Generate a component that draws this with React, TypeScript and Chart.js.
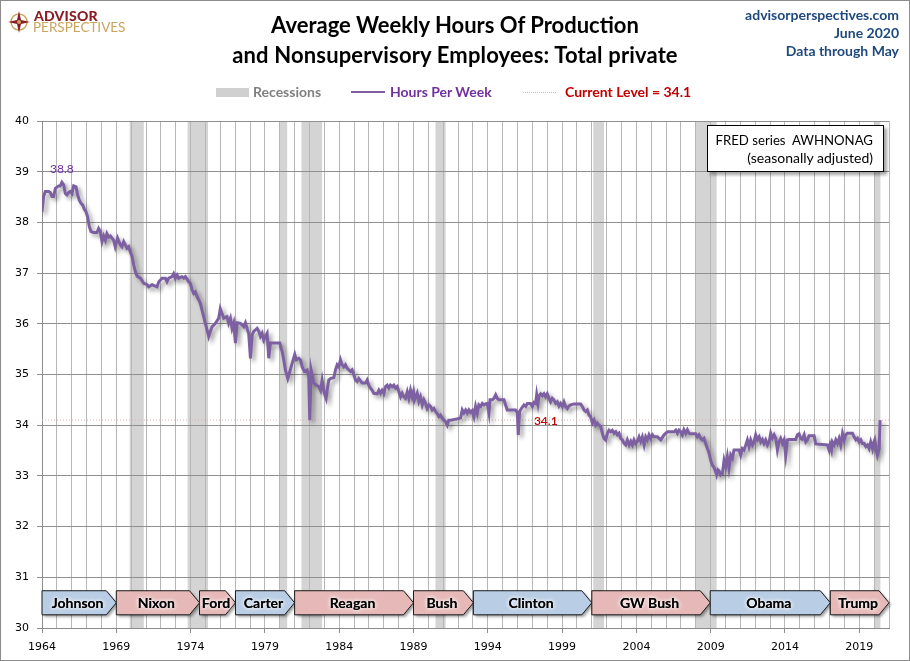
import React, { useEffect, useRef } from 'react';
import { Chart, registerables } from 'chart.js';

Chart.register(...registerables);

const hours1964to1979: [number, number][] = [
  [1964.00, 38.21], [1964.11, 38.51], [1964.22, 38.61], [1964.45, 38.61], [1964.56, 38.59], [1964.67, 38.51],
  [1964.78, 38.51], [1964.90, 38.67], [1965.12, 38.72], [1965.23, 38.72], [1965.34, 38.79], [1965.46, 38.74],
  [1965.57, 38.57], [1965.68, 38.54], [1965.79, 38.59], [1965.90, 38.61], [1966.02, 38.57], [1966.13, 38.72],
  [1966.29, 38.70], [1966.40, 38.54], [1966.51, 38.44], [1966.62, 38.38], [1966.74, 38.34], [1966.85, 38.26],
  [1966.96, 38.21], [1967.07, 38.11], [1967.18, 37.92], [1967.30, 37.82], [1967.48, 37.80], [1967.70, 37.80],
  [1967.81, 37.88], [1967.92, 37.82], [1968.04, 37.62], [1968.15, 37.73], [1968.26, 37.65], [1968.37, 37.78],
  [1968.49, 37.71], [1968.60, 37.73], [1968.82, 37.65], [1968.93, 37.52], [1969.09, 37.69], [1969.27, 37.56],
  [1969.38, 37.52], [1969.50, 37.62], [1969.72, 37.49], [1969.83, 37.52], [1969.94, 37.42], [1970.06, 37.33],
  [1970.17, 37.16], [1970.28, 37.03], [1970.40, 36.94], [1970.62, 36.90], [1970.85, 36.80], [1971.07, 36.77],
  [1971.18, 36.73], [1971.41, 36.77], [1971.74, 36.73], [1971.86, 36.83], [1972.08, 36.90], [1972.30, 36.90],
  [1972.41, 36.83], [1972.53, 36.90], [1972.75, 36.93], [1972.86, 36.99], [1972.97, 36.90], [1973.09, 36.96],
  [1973.20, 36.90], [1973.42, 36.93], [1973.54, 36.90], [1973.65, 36.93], [1973.76, 36.88], [1973.87, 36.83],
  [1973.98, 36.80], [1974.10, 36.67], [1974.21, 36.60], [1974.32, 36.63], [1974.43, 36.54], [1974.55, 36.47],
  [1974.66, 36.40], [1974.77, 36.27], [1974.88, 36.14], [1974.99, 36.01], [1975.11, 35.88], [1975.22, 35.75],
  [1975.33, 35.85], [1975.44, 35.94], [1975.67, 36.01], [1975.89, 36.11], [1976.00, 36.30], [1976.11, 36.21],
  [1976.23, 36.11], [1976.45, 36.14], [1976.56, 36.01], [1976.68, 36.11], [1976.79, 35.91], [1976.90, 36.01],
  [1977.02, 35.62], [1977.13, 36.02], [1977.35, 36.01], [1977.58, 35.94], [1977.69, 36.02], [1977.80, 35.91],
  [1977.91, 35.81], [1978.03, 35.32], [1978.14, 35.78], [1978.25, 35.85], [1978.48, 35.91], [1978.59, 35.85],
  [1978.70, 35.75], [1978.81, 35.81], [1978.92, 35.68], [1979.04, 35.75], [1979.15, 35.81], [1979.26, 35.32],
  [1979.37, 35.62], [1979.60, 35.62],
];

const hours1980to1999: [number, number][] = [
  [1980.00, 35.62], [1980.16, 35.45], [1980.27, 35.29], [1980.38, 35.09], [1980.54, 34.92], [1980.68, 35.06],
  [1980.83, 35.22], [1981.01, 35.40], [1981.12, 35.29], [1981.28, 35.32], [1981.39, 35.29], [1981.51, 35.15],
  [1981.66, 35.06], [1981.84, 35.09], [1981.95, 34.96], [1982.02, 34.10], [1982.11, 35.09], [1982.29, 34.83],
  [1982.47, 34.79], [1982.63, 34.76], [1982.74, 34.69], [1982.85, 34.89], [1982.97, 34.66], [1983.12, 34.53],
  [1983.19, 34.69], [1983.30, 34.89], [1983.41, 34.92], [1983.64, 34.94], [1983.75, 35.09], [1983.86, 35.19],
  [1983.97, 35.15], [1984.09, 35.29], [1984.20, 35.19], [1984.31, 35.15], [1984.42, 35.19], [1984.54, 35.12],
  [1984.76, 35.06], [1984.87, 35.09], [1984.99, 34.99], [1985.10, 34.89], [1985.21, 34.86], [1985.32, 34.92],
  [1985.55, 34.83], [1985.77, 34.83], [1985.88, 34.89], [1985.99, 34.79], [1986.11, 34.73], [1986.22, 34.69],
  [1986.33, 34.63], [1986.56, 34.62], [1986.67, 34.69], [1986.78, 34.63], [1986.89, 34.69], [1987.01, 34.63],
  [1987.12, 34.76], [1987.23, 34.79], [1987.34, 34.73], [1987.45, 34.79], [1987.57, 34.76], [1987.68, 34.79],
  [1987.79, 34.73], [1987.90, 34.76], [1988.02, 34.66], [1988.13, 34.56], [1988.24, 34.63], [1988.35, 34.56],
  [1988.46, 34.53], [1988.58, 34.66], [1988.69, 34.53], [1988.80, 34.69], [1988.91, 34.56], [1989.00, 34.66],
  [1989.07, 34.50], [1989.25, 34.63], [1989.36, 34.47], [1989.47, 34.56], [1989.59, 34.40], [1989.70, 34.50],
  [1989.81, 34.43], [1989.92, 34.33], [1990.04, 34.40], [1990.15, 34.37], [1990.26, 34.30], [1990.37, 34.33],
  [1990.48, 34.27], [1990.60, 34.23], [1990.71, 34.17], [1990.82, 34.20], [1990.93, 34.14], [1991.05, 34.10],
  [1991.16, 34.07], [1991.27, 34.00], [1991.38, 34.10], [1991.50, 34.10], [1992.17, 34.14], [1992.28, 34.30],
  [1992.39, 34.24], [1992.51, 34.30], [1992.62, 34.24], [1992.73, 34.30], [1992.84, 34.25], [1992.96, 34.29],
  [1993.07, 34.17], [1993.18, 34.37], [1993.29, 34.24], [1993.40, 34.40], [1993.52, 34.37], [1993.63, 34.43],
  [1993.74, 34.40], [1993.85, 34.42], [1993.97, 34.43], [1994.08, 34.24], [1994.15, 34.50], [1994.30, 34.50],
  [1994.41, 34.53], [1994.53, 34.60], [1994.64, 34.53], [1994.75, 34.50], [1995.09, 34.50], [1995.20, 34.40],
  [1995.31, 34.30], [1995.87, 34.30], [1995.99, 34.24], [1996.05, 33.81], [1996.14, 34.27], [1996.26, 34.33],
  [1996.43, 34.40], [1996.55, 34.37], [1996.66, 34.43], [1996.88, 34.43], [1997.00, 34.37], [1997.11, 34.45],
  [1997.22, 34.43], [1997.29, 34.60], [1997.38, 34.43], [1997.45, 34.58], [1997.56, 34.62], [1997.67, 34.58],
  [1997.78, 34.62], [1997.89, 34.56], [1998.00, 34.62], [1998.12, 34.53], [1998.23, 34.46], [1998.34, 34.53],
  [1998.45, 34.50], [1998.57, 34.43], [1998.68, 34.46], [1998.79, 34.38], [1998.90, 34.43], [1999.02, 34.37],
  [1999.13, 34.46], [1999.24, 34.37], [1999.35, 34.33], [1999.47, 34.38], [1999.58, 34.40], [1999.80, 34.42],
];

const hours2000to2020: [number, number][] = [
  [2000.25, 34.42], [2000.36, 34.37], [2000.48, 34.30], [2000.59, 34.27], [2000.70, 34.30], [2000.81, 34.20],
  [2000.92, 34.17], [2001.04, 34.04], [2001.15, 34.10], [2001.26, 34.00], [2001.37, 34.04], [2001.49, 34.00],
  [2001.60, 33.97], [2001.71, 33.84], [2001.82, 33.74], [2001.93, 33.71], [2002.05, 33.84], [2002.16, 33.90],
  [2002.27, 33.87], [2002.38, 33.90], [2002.50, 33.84], [2002.61, 33.87], [2002.72, 33.81], [2002.83, 33.84],
  [2002.94, 33.74], [2003.06, 33.71], [2003.17, 33.64], [2003.28, 33.61], [2003.39, 33.71], [2003.51, 33.61],
  [2003.62, 33.68], [2003.73, 33.61], [2003.84, 33.71], [2003.95, 33.64], [2004.07, 33.68], [2004.18, 33.77],
  [2004.29, 33.68], [2004.40, 33.77], [2004.52, 33.61], [2004.63, 33.77], [2004.74, 33.71], [2004.85, 33.81],
  [2004.96, 33.74], [2005.08, 33.81], [2005.19, 33.77], [2005.41, 33.77], [2005.64, 33.71], [2005.86, 33.81],
  [2006.09, 33.87], [2006.54, 33.87], [2006.65, 33.90], [2006.76, 33.84], [2006.87, 33.90], [2006.98, 33.87],
  [2007.09, 33.81], [2007.20, 33.91], [2007.32, 33.84], [2007.43, 33.91], [2007.54, 33.84], [2007.65, 33.83],
  [2007.99, 33.83], [2008.10, 33.77], [2008.21, 33.81], [2008.33, 33.74], [2008.44, 33.71], [2008.55, 33.74],
  [2008.66, 33.64], [2008.78, 33.54], [2008.89, 33.45], [2009.00, 33.31], [2009.11, 33.21], [2009.22, 33.17],
  [2009.34, 33.08], [2009.40, 33.02], [2009.49, 33.12], [2009.56, 33.10], [2009.67, 33.02], [2009.79, 33.05],
  [2009.90, 33.31], [2010.01, 33.18], [2010.12, 33.38], [2010.23, 33.15], [2010.35, 33.41], [2010.46, 33.35],
  [2010.57, 33.51], [2010.91, 33.51], [2011.02, 33.41], [2011.13, 33.54], [2011.24, 33.51], [2011.36, 33.61],
  [2011.47, 33.71], [2011.58, 33.58], [2011.69, 33.71], [2011.81, 33.61], [2011.92, 33.67], [2012.03, 33.81],
  [2012.14, 33.71], [2012.26, 33.77], [2012.37, 33.67], [2012.48, 33.72], [2012.59, 33.64], [2012.70, 33.71],
  [2012.82, 33.61], [2012.93, 33.67], [2013.04, 33.84], [2013.15, 33.74], [2013.27, 33.81], [2013.38, 33.74],
  [2013.49, 33.51], [2013.60, 33.67], [2013.71, 33.74], [2013.83, 33.64], [2013.94, 33.71], [2014.05, 33.41],
  [2014.16, 33.71], [2014.28, 33.72], [2014.72, 33.72], [2014.84, 33.81], [2014.95, 33.83], [2015.06, 33.74],
  [2015.17, 33.72], [2015.29, 33.81], [2015.40, 33.67], [2015.51, 33.71], [2015.62, 33.79], [2015.96, 33.79],
  [2016.07, 33.63], [2016.86, 33.61], [2016.97, 33.51], [2017.04, 33.61], [2017.13, 33.51], [2017.19, 33.67],
  [2017.31, 33.61], [2017.42, 33.71], [2017.53, 33.64], [2017.64, 33.74], [2017.75, 33.61], [2017.87, 33.84],
  [2017.98, 33.71], [2018.09, 33.81], [2018.20, 33.84], [2018.54, 33.84], [2018.65, 33.77], [2018.77, 33.71],
  [2018.88, 33.74], [2018.99, 33.67], [2019.10, 33.71], [2019.21, 33.64], [2019.33, 33.64], [2019.44, 33.58],
  [2019.55, 33.61], [2019.66, 33.54], [2019.77, 33.67], [2019.89, 33.54], [2019.95, 33.64], [2020.04, 33.71],
  [2020.13, 33.54], [2020.22, 33.41], [2020.34, 33.54], [2020.40, 34.10],
];

const recessionStarts = [1969.9, 1973.8, 1980.0, 1981.46, 1990.48, 2001.1, 2007.97, 2020.05];
const recessionEnds = [1970.85, 1975.17, 1980.5, 1982.85, 1991.16, 2001.82, 2009.4, 2020.42];

const presidents = ['Johnson', 'Nixon', 'Ford', 'Carter', 'Reagan', 'Bush', 'Clinton', 'GW Bush', 'Obama', 'Trump'];
const termStarts = [1964.0, 1969.0, 1974.6, 1977.02, 1981.0, 1989.0, 1993.03, 2001.0, 2008.97, 2017.05];
const termEnds = [1969.0, 1974.6, 1977.02, 1981.0, 1989.0, 1993.03, 2001.0, 2008.97, 2017.05, 2021.0];
const parties = ['D', 'R', 'R', 'D', 'R', 'R', 'D', 'R', 'D', 'R'];

const xMin = 1964;
const xMax = 2021;
const yMin = 30;
const yMax = 40;
const labelEvery = 5;

const allHours = [...hours1964to1979, ...hours1980to1999, ...hours2000to2020];
const currentLevel = allHours[allHours.length - 1][1];
const peakObs = allHours.reduce((a, b) => (b[1] > a[1] ? b : a));

const LINE_COLOR = '#7d60a2';

const backgroundPlugin = {
  id: 'recessionShading',
  beforeDraw(chart: any) {
    const { ctx, chartArea, scales } = chart;
    const x = scales.x;
    ctx.save();
    ctx.fillStyle = '#d4d4d4';
    recessionStarts.forEach((s, i) => {
      const x0 = x.getPixelForValue(s);
      const x1 = x.getPixelForValue(recessionEnds[i]);
      ctx.fillRect(x0, chartArea.top, x1 - x0, chartArea.bottom - chartArea.top);
    });
    ctx.restore();
  },
};

const shadowPlugin = {
  id: 'lineShadow',
  beforeDatasetDraw(chart: any, args: any) {
    if (args.index !== 0) return;
    const ctx = chart.ctx;
    ctx.save();
    ctx.shadowColor = 'rgba(0,0,0,0.38)';
    ctx.shadowBlur = 4;
    ctx.shadowOffsetX = 3;
    ctx.shadowOffsetY = 3;
  },
  afterDatasetDraw(chart: any, args: any) {
    if (args.index !== 0) return;
    chart.ctx.restore();
  },
};

const overlayPlugin = {
  id: 'overlays',
  afterDatasetsDraw(chart: any) {
    const { ctx, scales } = chart;
    const x = scales.x;
    const y = scales.y;
    // president boxes
    const top = y.getPixelForValue(30.735);
    const bot = y.getPixelForValue(30.26);
    const mid = (top + bot) / 2;
    const tip = 10;
    presidents.forEach((name, i) => {
      const x0 = x.getPixelForValue(termStarts[i]);
      const x1 = x.getPixelForValue(termEnds[i]);
      ctx.save();
      ctx.beginPath();
      ctx.moveTo(x0, top);
      ctx.lineTo(x1 - tip, top);
      ctx.lineTo(x1, mid);
      ctx.lineTo(x1 - tip, bot);
      ctx.lineTo(x0, bot);
      ctx.closePath();
      ctx.shadowColor = 'rgba(0,0,0,0.4)';
      ctx.shadowBlur = 3;
      ctx.shadowOffsetX = 2;
      ctx.shadowOffsetY = 2;
      ctx.fillStyle = parties[i] === 'D' ? '#b9cde5' : '#e6b9b8';
      ctx.fill();
      ctx.shadowColor = 'rgba(0,0,0,0)';
      ctx.strokeStyle = '#1a1a1a';
      ctx.lineWidth = 1;
      ctx.stroke();
      ctx.font = 'bold 14px Lato';
      ctx.textAlign = 'center';
      ctx.textBaseline = 'middle';
      ctx.shadowColor = 'rgba(255,255,255,1)';
      ctx.shadowBlur = 4;
      ctx.shadowOffsetX = 0;
      ctx.shadowOffsetY = 0;
      ctx.fillStyle = '#000';
      const cx = (x0 + x1) / 2 - 1.5;
      ctx.fillText(name, cx, mid + 1);
      ctx.fillText(name, cx, mid + 1);
      ctx.restore();
    });
    // value labels
    ctx.save();
    ctx.textAlign = 'center';
    ctx.textBaseline = 'middle';
    ctx.font = '12px Lato';
    ctx.fillStyle = '#7030a0';
    ctx.fillText(peakObs[1].toFixed(1), x.getPixelForValue(peakObs[0]), y.getPixelForValue(peakObs[1]) - 13);
    ctx.fillStyle = '#c00000';
    ctx.font = '600 12px Lato';
    ctx.fillText(currentLevel.toFixed(1), x.getPixelForValue(1997.9), y.getPixelForValue(currentLevel) + 1);
    ctx.restore();
  },
};

export default function App() {
  const canvasRef = useRef<HTMLCanvasElement | null>(null);

  useEffect(() => {
    const canvas = canvasRef.current;
    if (!canvas) return;
    const chart = new Chart(canvas, {
      type: 'line',
      data: {
        datasets: [
          {
            label: 'Hours Per Week',
            data: allHours.map(([d, h]) => ({ x: d, y: h })),
            borderColor: LINE_COLOR,
            borderWidth: 3,
            pointRadius: 0,
            tension: 0,
            fill: false,
          },
          {
            label: 'Current Level',
            data: [
              { x: xMin, y: currentLevel },
              { x: xMax, y: currentLevel },
            ],
            borderColor: '#e6aeb0',
            borderWidth: 1,
            borderDash: [1, 2],
            pointRadius: 0,
            fill: false,
          },
        ],
      },
      options: {
        animation: false,
        responsive: false,
        events: [],
        layout: { padding: { left: 0, top: 121, right: 21, bottom: 0 } },
        plugins: { legend: { display: false }, tooltip: { enabled: false }, title: { display: false } },
        scales: {
          x: {
            type: 'linear',
            min: xMin,
            max: xMax,
            afterFit: (s: any) => {
              s.height = 33;
            },
            ticks: {
              stepSize: 1,
              autoSkip: false,
              maxRotation: 0,
              padding: 8,
              color: '#000',
              font: { family: 'DejaVu Sans', size: 11 },
              callback: (v: any) => ((Number(v) - xMin) % labelEvery === 0 ? String(v) : ''),
            },
            grid: {
              color: '#b7b7b7',
              lineWidth: 1,
              tickLength: 5,
              tickColor: (c: any) =>
                c.tick && (c.tick.value - xMin) % labelEvery === 0 ? '#8c8c8c' : 'rgba(0,0,0,0)',
            },
            border: { color: '#8c8c8c' },
          },
          y: {
            min: yMin,
            max: yMax,
            afterFit: (s: any) => {
              s.width = 42;
            },
            ticks: {
              stepSize: 1,
              padding: 8,
              color: '#000',
              font: { family: 'DejaVu Sans', size: 11 },
            },
            grid: { color: '#8f8f8f', lineWidth: 1, tickLength: 5, tickColor: '#8c8c8c' },
            border: { color: '#8c8c8c' },
          },
        },
      },
      plugins: [backgroundPlugin, shadowPlugin, overlayPlugin],
    });
    return () => chart.destroy();
  }, []);

  const legendText: React.CSSProperties = {
    position: 'absolute',
    top: 83,
    fontFamily: 'Lato, sans-serif',
    fontWeight: 700,
    fontSize: 14,
    lineHeight: '18px',
    whiteSpace: 'nowrap',
  };

  return (
    <div
      style={{
        position: 'absolute',
        left: 0,
        top: 0,
        width: 910,
        height: 661,
        background: '#fff',
        overflow: 'hidden',
        fontFamily: 'Lato, sans-serif',
      }}
    >
      <canvas ref={canvasRef} width={910} height={661} style={{ position: 'absolute', left: 0, top: 0, width: 910, height: 661 }} />

      {/* frame */}
      <div style={{ position: 'absolute', left: 0, top: 0, width: 910, height: 661, boxSizing: 'border-box', border: '1px solid #8c8c8c', pointerEvents: 'none' }} />

      {/* logo */}
      <svg width={24} height={24} viewBox="0 0 24 24" style={{ position: 'absolute', left: 7, top: 10 }}>
        <circle cx={12} cy={12} r={8} fill="none" stroke="#c9a45c" strokeWidth={1.5} />
        <polygon points="12,1 14,10 23,12 14,14 12,23 10,14 1,12 10,10" fill="#8b1c24" />
        <circle cx={12} cy={12} r={2} fill="#c9a45c" />
      </svg>
      <div style={{ position: 'absolute', left: 34, top: 9, color: '#8b1c24', fontWeight: 900, fontSize: 14, lineHeight: '14px', letterSpacing: 0.2 }}>
        ADVISOR
      </div>
      <div style={{ position: 'absolute', left: 33, top: 20, color: '#c9a45c', fontWeight: 400, fontSize: 13.5, lineHeight: '14px' }}>
        PERSPECTIVES
      </div>

      {/* title */}
      <div
        style={{
          position: 'absolute',
          left: 0,
          top: 10,
          width: 910,
          textAlign: 'center',
          fontWeight: 700,
          fontSize: 22,
          lineHeight: '30px',
          color: '#000',
        }}
      >
        <div>Average Weekly Hours Of Production</div>
        <div style={{ letterSpacing: 0.15 }}>and Nonsupervisory Employees: Total private</div>
      </div>

      {/* source */}
      <div
        style={{
          position: 'absolute',
          right: 11,
          top: 6,
          textAlign: 'right',
          fontWeight: 700,
          fontSize: 14,
          lineHeight: '18px',
          color: '#1f497d',
        }}
      >
        <div>advisorperspectives.com</div>
        <div>June 2020</div>
        <div>Data through May</div>
      </div>

      {/* legend */}
      <div style={{ position: 'absolute', left: 216, top: 88, width: 33, height: 9, background: '#d0d0d0' }} />
      <div style={{ ...legendText, left: 253, color: '#808080' }}>Recessions</div>
      <div style={{ position: 'absolute', left: 351, top: 91, width: 34, height: 2, background: LINE_COLOR }} />
      <div style={{ ...legendText, left: 390, color: '#7030a0' }}>Hours Per Week</div>
      <div style={{ position: 'absolute', left: 523, top: 92, width: 33, height: 0, borderTop: '1px dotted #e6aeb0' }} />
      <div style={{ ...legendText, left: 565, color: '#c00000' }}>{`Current Level = ${currentLevel.toFixed(1)}`}</div>

      {/* FRED box */}
      <div
        style={{
          position: 'absolute',
          left: 707,
          top: 125,
          width: 177,
          height: 47,
          boxSizing: 'border-box',
          border: '1px solid #000',
          background: '#fff',
          boxShadow: '3px 3px 3px rgba(0,0,0,0.35)',
          textAlign: 'right',
          paddingRight: 10,
          paddingTop: 5,
          fontSize: 14,
          lineHeight: '18px',
          color: '#000',
          whiteSpace: 'pre',
        }}
      >
        <div style={{ fontSize: 13.2 }}>{'FRED series  AWHNONAG'}</div>
        <div>(seasonally adjusted)</div>
      </div>
    </div>
  );
}
